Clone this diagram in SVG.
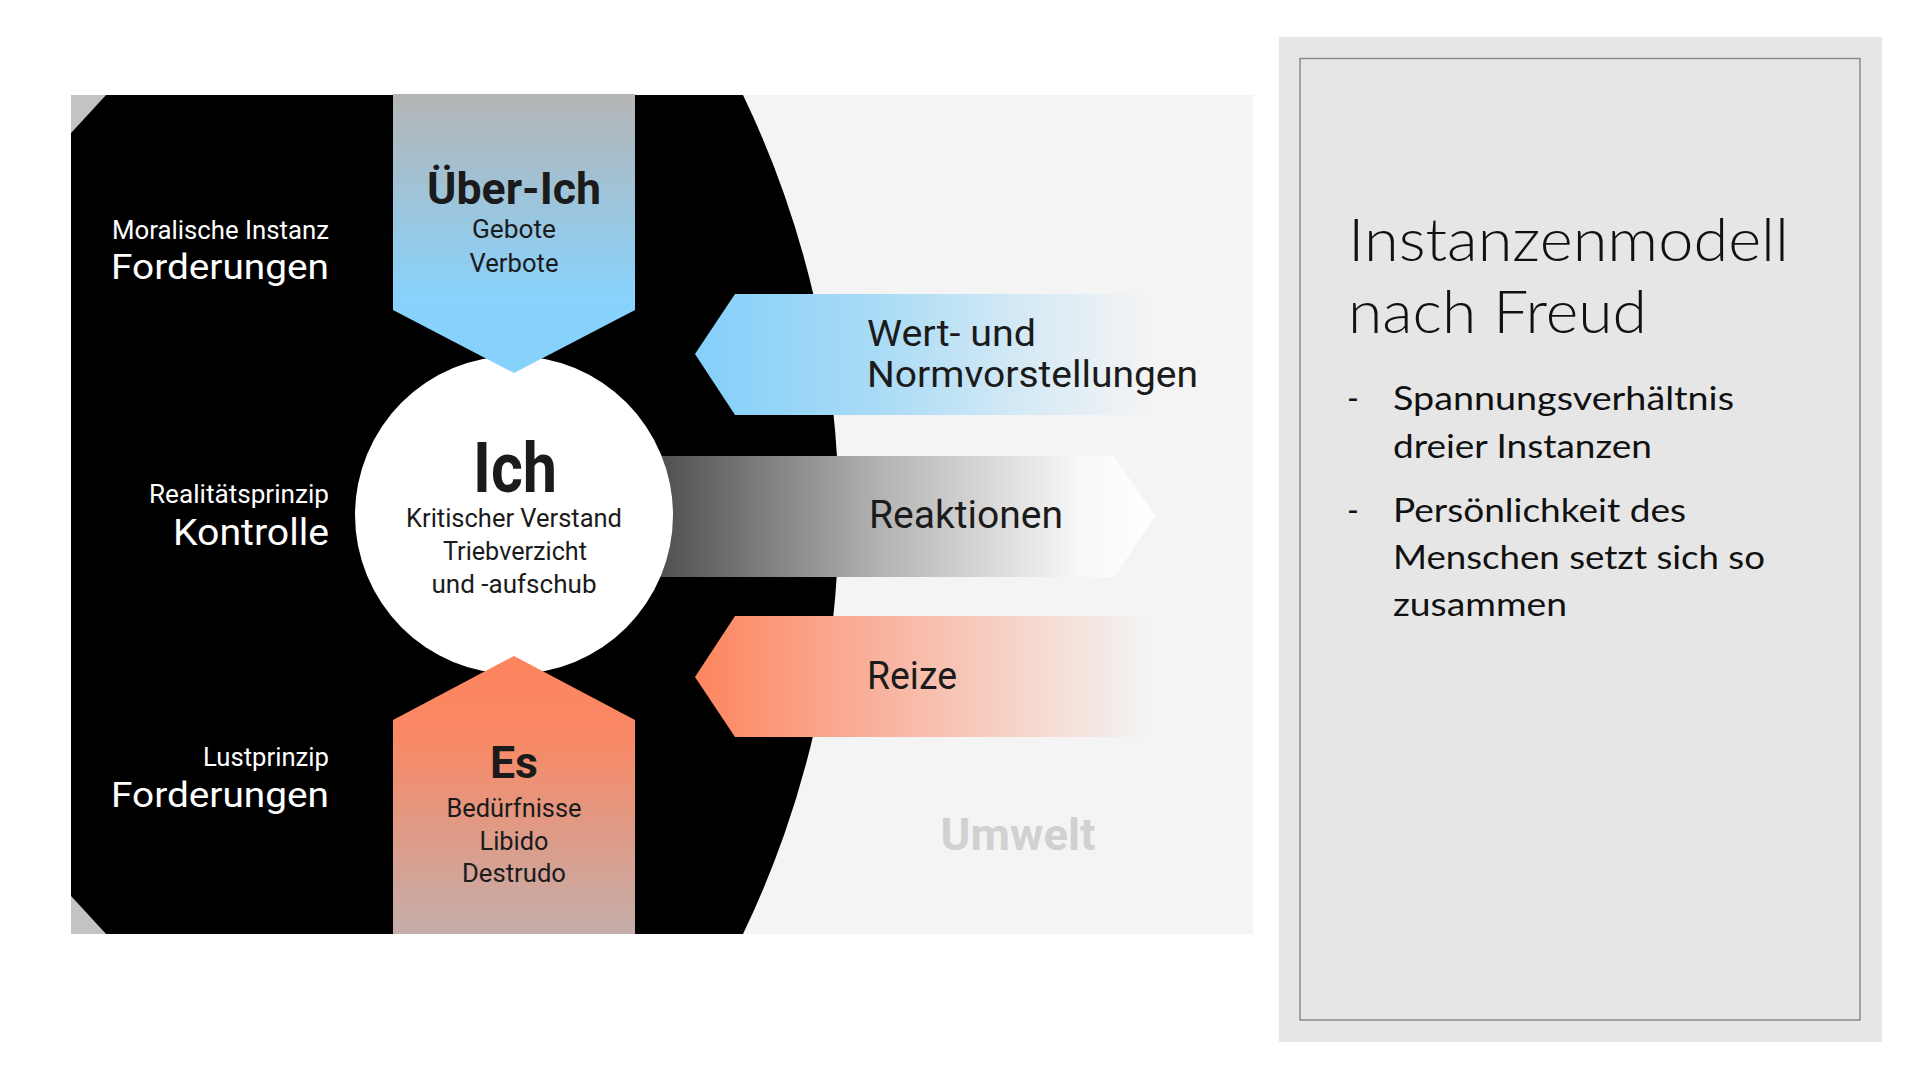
<svg xmlns="http://www.w3.org/2000/svg" width="1920" height="1080" viewBox="0 0 1920 1080">
<defs>
<style>
.d{font-family:Roboto,"Liberation Sans","DejaVu Sans",sans-serif;fill:#1b1b1b}
.w{fill:#ffffff}
.b{font-weight:700}
.m{text-anchor:middle}
.e{text-anchor:end}
.r{font-family:Lato,"Noto Sans","Liberation Sans",sans-serif;font-weight:300;fill:#111111}
.rb{font-weight:400}
</style>
<linearGradient id="gSuper" x1="0" y1="94" x2="0" y2="373" gradientUnits="userSpaceOnUse">
<stop offset="0" stop-color="#b5b5b5"/><stop offset="0.72" stop-color="#88d2fb"/><stop offset="1" stop-color="#86d2fc"/>
</linearGradient>
<linearGradient id="gEs" x1="0" y1="656" x2="0" y2="934" gradientUnits="userSpaceOnUse">
<stop offset="0" stop-color="#fd845d"/><stop offset="0.3" stop-color="#f98966"/><stop offset="1" stop-color="#c3aeaa"/>
</linearGradient>
<linearGradient id="gWert" x1="695" y1="0" x2="1151" y2="0" gradientUnits="userSpaceOnUse">
<stop offset="0" stop-color="#84cffb"/><stop offset="0.4" stop-color="#a9dbf6"/><stop offset="0.75" stop-color="#d9ebf5"/><stop offset="1" stop-color="#f4f4f4"/>
</linearGradient>
<linearGradient id="gReiz" x1="695" y1="0" x2="1151" y2="0" gradientUnits="userSpaceOnUse">
<stop offset="0" stop-color="#fd855e"/><stop offset="0.4" stop-color="#f8b29d"/><stop offset="0.75" stop-color="#f6d9d0"/><stop offset="1" stop-color="#f4f4f4"/>
</linearGradient>
<linearGradient id="gReak" x1="661" y1="0" x2="1155" y2="0" gradientUnits="userSpaceOnUse">
<stop offset="0" stop-color="#505050"/><stop offset="0.45" stop-color="#b4b4b4"/><stop offset="0.85" stop-color="#f8f8f8"/><stop offset="1" stop-color="#ffffff"/>
</linearGradient>
</defs>
<rect width="1920" height="1080" fill="#ffffff"/>

<g id="panel">
<rect x="71" y="95" width="1182" height="839" fill="#f4f4f4"/>
<polygon points="71,95 106,95 71,133" fill="#c3c3c3"/>
<polygon points="71,934 106,934 71,896" fill="#c3c3c3"/>
<path d="M106 95 L743 95 A967 967 0 0 1 743 934 L106 934 L71 896 L71 133 Z" fill="#000000"/>
</g>

<g id="labels">
<text class="d w e" x="329" y="239" font-size="25" textLength="217" lengthAdjust="spacingAndGlyphs">Moralische Instanz</text>
<text class="d w e" x="329" y="279" font-size="35" textLength="218" lengthAdjust="spacingAndGlyphs">Forderungen</text>
<text class="d w e" x="329" y="503" font-size="25" textLength="180" lengthAdjust="spacingAndGlyphs">Realitätsprinzip</text>
<text class="d w e" x="329" y="545" font-size="36" textLength="156" lengthAdjust="spacingAndGlyphs">Kontrolle</text>
<text class="d w e" x="329" y="766" font-size="25" textLength="126" lengthAdjust="spacingAndGlyphs">Lustprinzip</text>
<text class="d w e" x="329" y="807" font-size="35" textLength="218" lengthAdjust="spacingAndGlyphs">Forderungen</text>
</g>

<g id="arrows">
<g id="reaktionen">
<polygon points="661,456 1114,456 1155,516 1114,577 661,577" fill="url(#gReak)"/>
<text class="d" x="869" y="528" font-size="39" textLength="194" lengthAdjust="spacingAndGlyphs">Reaktionen</text>
</g>
<g id="wert">
<polygon points="695,354 735,294 1151,294 1151,415 735,415" fill="url(#gWert)"/>
<text class="d" x="867" y="346" font-size="36" textLength="169" lengthAdjust="spacingAndGlyphs">Wert- und</text>
<text class="d" x="867" y="387" font-size="36" textLength="331" lengthAdjust="spacingAndGlyphs">Normvorstellungen</text>
</g>
<g id="reize">
<polygon points="695,677 735,616 1151,616 1151,737 735,737" fill="url(#gReiz)"/>
<text class="d" x="867" y="689" font-size="39" textLength="90" lengthAdjust="spacingAndGlyphs">Reize</text>
</g>
</g>

<g id="ich">
<circle cx="514" cy="515" r="159" fill="#ffffff"/>
<text class="d b m" x="515" y="492" font-size="70" textLength="84" lengthAdjust="spacingAndGlyphs">Ich</text>
<text class="d m" x="514" y="527" font-size="25" textLength="216" lengthAdjust="spacingAndGlyphs">Kritischer Verstand</text>
<text class="d m" x="515" y="560" font-size="25" textLength="144" lengthAdjust="spacingAndGlyphs">Triebverzicht</text>
<text class="d m" x="514" y="593" font-size="25" textLength="165" lengthAdjust="spacingAndGlyphs">und -aufschub</text>
</g>

<g id="ueber-ich">
<polygon points="393,94 635,94 635,310 514,373 393,310" fill="url(#gSuper)"/>
<text class="d b m" x="514" y="204" font-size="44" textLength="174" lengthAdjust="spacingAndGlyphs">Über-Ich</text>
<text class="d m" x="514" y="238" font-size="25" textLength="84" lengthAdjust="spacingAndGlyphs">Gebote</text>
<text class="d m" x="514" y="272" font-size="25" textLength="89" lengthAdjust="spacingAndGlyphs">Verbote</text>
</g>

<g id="es">
<polygon points="393,720 514,656 635,720 635,934 393,934" fill="url(#gEs)"/>
<text class="d b m" x="514" y="778" font-size="44" textLength="48" lengthAdjust="spacingAndGlyphs">Es</text>
<text class="d m" x="514" y="817" font-size="25" textLength="135" lengthAdjust="spacingAndGlyphs">Bedürfnisse</text>
<text class="d m" x="514" y="850" font-size="25" textLength="69" lengthAdjust="spacingAndGlyphs">Libido</text>
<text class="d m" x="514" y="882" font-size="25" textLength="104" lengthAdjust="spacingAndGlyphs">Destrudo</text>
</g>

<g id="umwelt">
<text class="d b m" x="1018" y="850" font-size="44" style="fill:#d1d1d1" textLength="155" lengthAdjust="spacingAndGlyphs">Umwelt</text>
</g>

<g id="info">
<rect x="1279" y="37" width="603" height="1005" fill="#e6e6e6"/>
<rect x="1300" y="58.5" width="560" height="961.5" fill="none" stroke="#8a8a8a" stroke-width="1.5"/>
<text class="r" x="1348" y="261" font-size="60" textLength="441" lengthAdjust="spacingAndGlyphs">Instanzenmodell</text>
<text class="r" x="1348" y="333" font-size="60" textLength="299" lengthAdjust="spacingAndGlyphs">nach Freud</text>
<text class="r rb" x="1347" y="410" font-size="32">-</text>
<text class="r rb" x="1393" y="410" font-size="33" textLength="341" lengthAdjust="spacingAndGlyphs">Spannungsverhältnis</text>
<text class="r rb" x="1393" y="458" font-size="33" textLength="259" lengthAdjust="spacingAndGlyphs">dreier Instanzen</text>
<text class="r rb" x="1347" y="522" font-size="32">-</text>
<text class="r rb" x="1393" y="522" font-size="33" textLength="293" lengthAdjust="spacingAndGlyphs">Persönlichkeit des</text>
<text class="r rb" x="1393" y="569" font-size="33" textLength="372" lengthAdjust="spacingAndGlyphs">Menschen setzt sich so</text>
<text class="r rb" x="1393" y="616" font-size="33" textLength="174" lengthAdjust="spacingAndGlyphs">zusammen</text>
</g>
</svg>
